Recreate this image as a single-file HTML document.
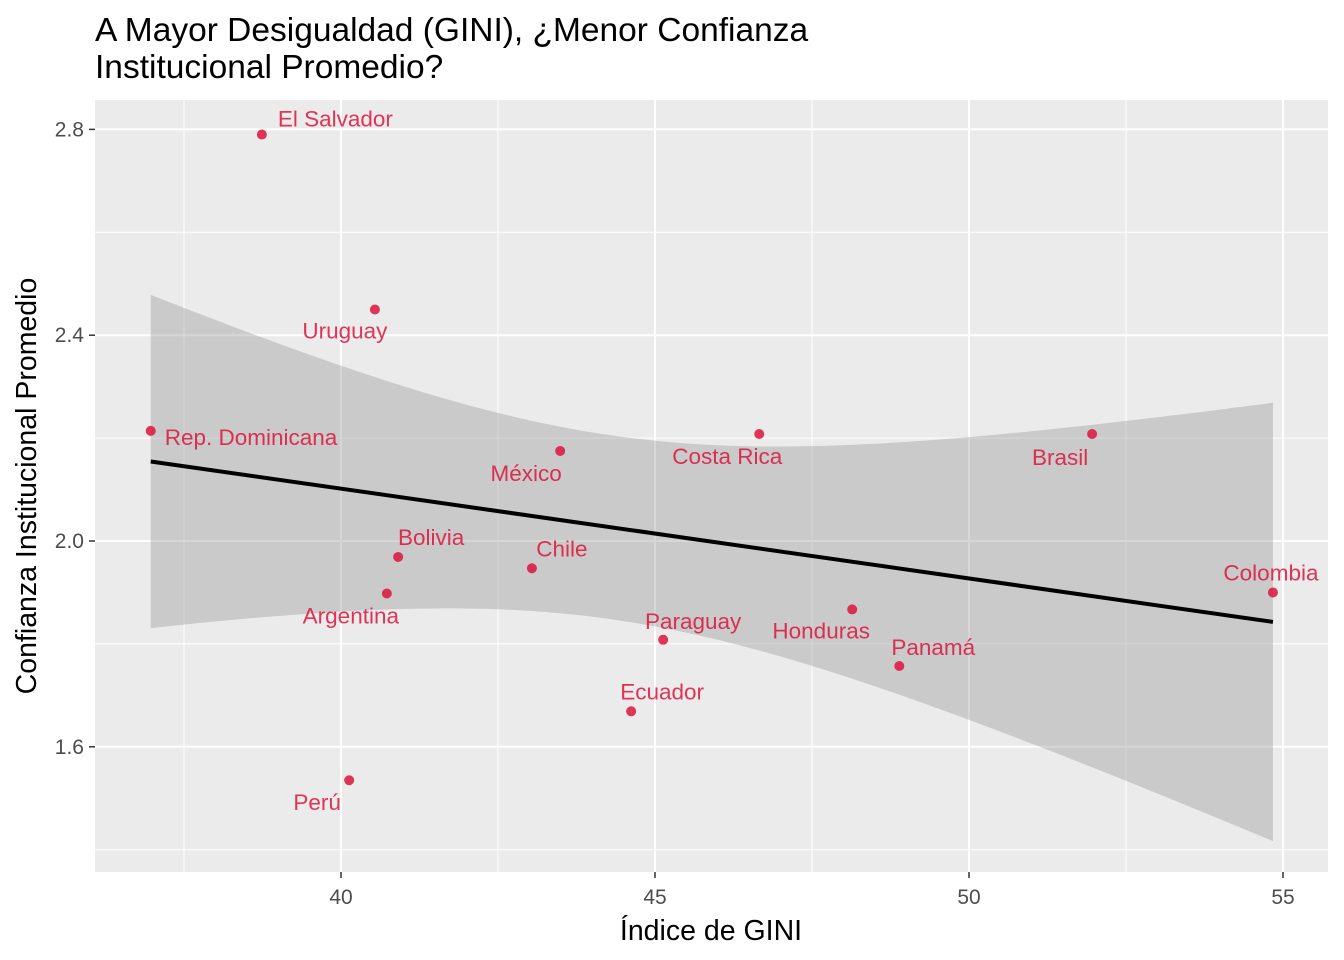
<!DOCTYPE html>
<html><head><meta charset="utf-8"><style>
html,body{margin:0;padding:0;background:#fff}
svg{display:block;font-family:"Liberation Sans",Arial,sans-serif}
</style></head><body>
<svg id="chart" width="1344" height="960" viewBox="0 0 1344 960" xmlns="http://www.w3.org/2000/svg">
<text x="95" y="41" font-size="33.5" fill="#000">A Mayor Desigualdad (GINI), ¿Menor Confianza</text>
<text x="95" y="78" font-size="33.5" fill="#000">Institucional Promedio?</text>
<rect x="95" y="100" width="1233" height="772" fill="#ebebeb"/>
<g id="grid"></g><g id="ribbon"></g><g id="marks"></g><g id="axes"></g>
<text x="711" y="940" font-size="28.5" text-anchor="middle" fill="#000">Índice de GINI</text>
<text transform="translate(36,486) rotate(-90)" font-size="28.5" text-anchor="middle" fill="#000">Confianza Institucional Promedio</text>
</svg>
<script>
const countries=["El Salvador","Uruguay","Rep. Dominicana","México","Costa Rica","Brasil","Bolivia","Chile","Argentina","Colombia","Honduras","Paraguay","Panamá","Ecuador","Perú"];
const gini=[38.74,40.54,36.97,43.49,46.66,51.96,40.91,43.04,40.73,54.84,48.14,45.13,48.89,44.62,40.13];
const confianza=[2.79,2.45,2.214,2.175,2.208,2.208,1.969,1.947,1.898,1.900,1.867,1.808,1.757,1.669,1.535];
const xTicks=[40,45,50,55];
const yTicks=[1.6,2.0,2.4,2.8];
const xMinor=[37.5,42.5,47.5,52.5];
const yMinor=[1.4,1.8,2.2,2.6];
const labOff=[[16,-8,"start"],[-30,29,"middle"],[14,14,"start"],[-34,30,"middle"],[-32,30,"middle"],[-32,31,"middle"],[33,-12,"middle"],[30,-12,"middle"],[-36,30,"middle"],[-2,-12,"middle"],[-31,29,"middle"],[30,-11,"middle"],[34,-11,"middle"],[31,-12,"middle"],[-32,30,"middle"]];
const X=v=>341+(v-40)*62.8, Y=v=>541-(v-2.0)*514.5;
const NS="http://www.w3.org/2000/svg";
function mk(tag,attrs,parent,text){const e=document.createElementNS(NS,tag);for(const k in attrs)e.setAttribute(k,attrs[k]);if(text!==undefined)e.textContent=text;parent.appendChild(e);return e;}
const grid=document.getElementById('grid'),rib=document.getElementById('ribbon'),marks=document.getElementById('marks'),axes=document.getElementById('axes');
xMinor.forEach(v=>{const l=mk('line',{x1:X(v),x2:X(v),y1:100,y2:872,stroke:'#fff','stroke-width':1},grid);});
yMinor.forEach(v=>{const l=mk('line',{x1:95,x2:1328,y1:Y(v),y2:Y(v),stroke:'#fff','stroke-width':1},grid);});
xTicks.forEach(v=>{const l=mk('line',{x1:X(v),x2:X(v),y1:100,y2:872,stroke:'#fff','stroke-width':2},grid);
 const t=mk('line',{x1:X(v),x2:X(v),y1:872,y2:878,stroke:'#333','stroke-width':1.5},axes);
 const tx=mk('text',{x:X(v),y:904,'font-size':21,'text-anchor':'middle',fill:'#4d4d4d'},axes,String(v));});
yTicks.forEach(v=>{const l=mk('line',{x1:95,x2:1328,y1:Y(v),y2:Y(v),stroke:'#fff','stroke-width':2},grid);
 const t=mk('line',{x1:89,x2:95,y1:Y(v),y2:Y(v),stroke:'#333','stroke-width':1.5},axes);
 const tx=mk('text',{x:84,y:Y(v)+7,'font-size':21,'text-anchor':'end',fill:'#4d4d4d'},axes,v.toFixed(1));});
const n=gini.length,mx=gini.reduce((a,b)=>a+b)/n,my=confianza.reduce((a,b)=>a+b)/n;
let sxx=0,sxy=0;gini.forEach((x,i)=>{sxx+=(x-mx)**2;sxy+=(x-mx)*(confianza[i]-my);});
const b=sxy/sxx,a=my-b*mx;let sse=0;gini.forEach((x,i)=>{sse+=(confianza[i]-a-b*x)**2;});
const s=Math.sqrt(sse/(n-2)),tcrit=2.160;
const x0=Math.min(...gini),x1=Math.max(...gini);const up=[],lo=[];
for(let k=0;k<=80;k++){const x=x0+(x1-x0)*k/80,yh=a+b*x,se=s*Math.sqrt(1/n+(x-mx)**2/sxx);up.push(X(x)+','+Y(yh+tcrit*se));lo.unshift(X(x)+','+Y(yh-tcrit*se));}
const rp=mk('polygon',{points:up.concat(lo).join(' '),fill:'#999','fill-opacity':0.4},rib);

const rl=mk('line',{x1:X(x0),y1:Y(a+b*x0),x2:X(x1),y2:Y(a+b*x1),stroke:'#000','stroke-width':4},rib);

countries.forEach((c,i)=>{const cx=X(gini[i]),cy=Y(confianza[i]);
 const p=mk('circle',{cx:cx,cy:cy,r:5,fill:'#dc143c','fill-opacity':0.85},marks);
 
 const o=labOff[i];const t=mk('text',{x:cx+o[0],y:cy+o[1],'font-size':22.5,'text-anchor':o[2],fill:'#dc143c','fill-opacity':0.85},marks,c);
 });
</script>
</body></html>
